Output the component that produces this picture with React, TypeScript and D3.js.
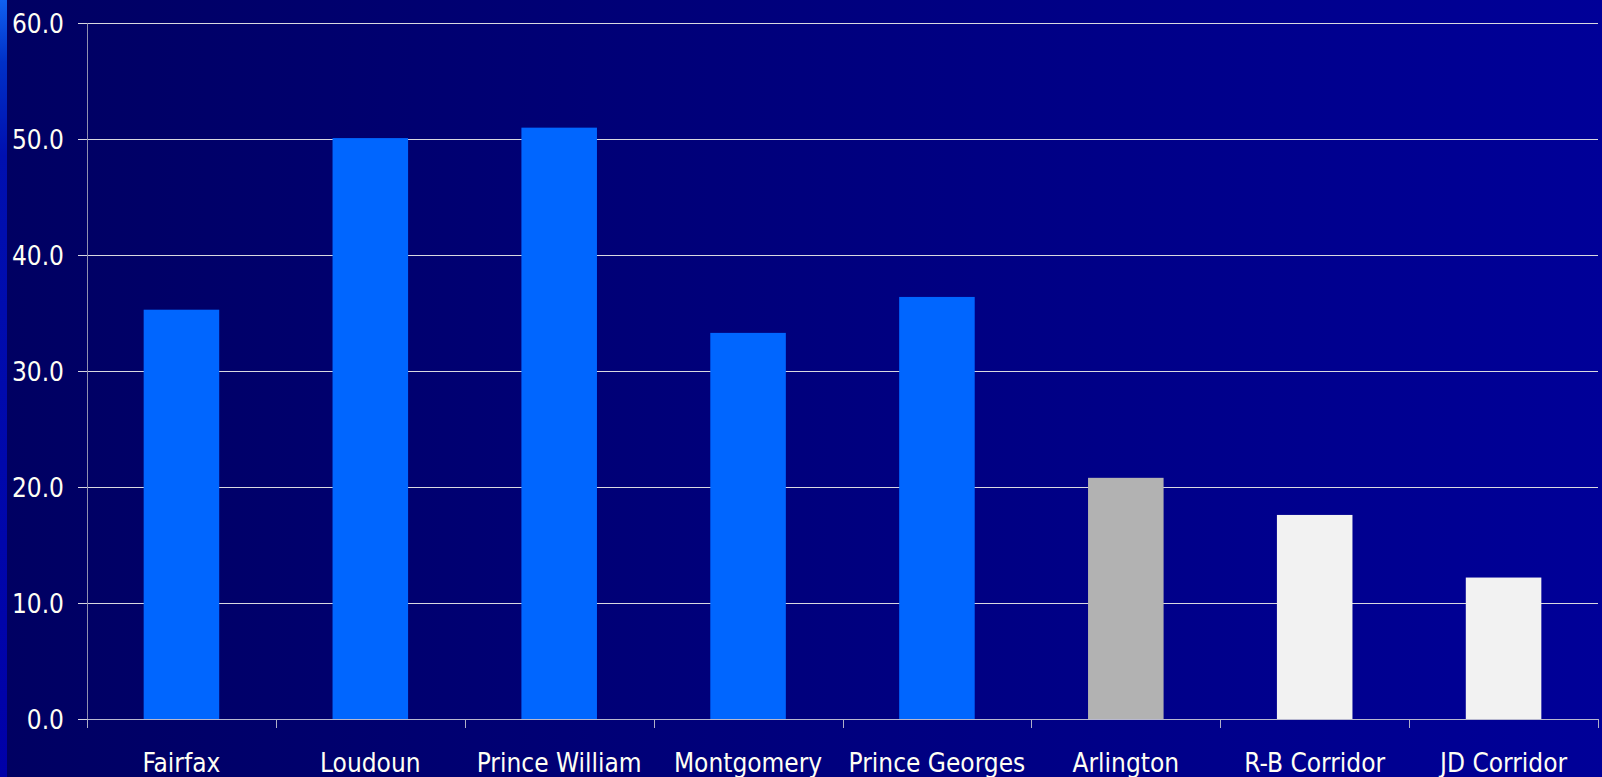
import React from "react";
import * as d3 from "d3";

const categories = ["Fairfax", "Loudoun", "Prince William", "Montgomery", "Prince Georges", "Arlington", "R-B Corridor", "JD Corridor"];
const values = [35.3, 50.1, 51.0, 33.3, 36.4, 20.8, 17.6, 12.2];
const barColors = ["#0066FF", "#0066FF", "#0066FF", "#0066FF", "#0066FF", "#B2B2B2", "#F2F2F2", "#F2F2F2"];
const yTicks = [0, 10, 20, 30, 40, 50, 60];

const W = 1602;
const H = 777;
const left = 87;
const right = 1598;
const top = 23.3;
const bottom = 719;
const font = "'DejaVu Sans Condensed', 'DejaVu Sans', sans-serif";

export default function App() {
  const x = d3.scaleBand<string>().domain(categories).range([left, right]).paddingInner(0.6).paddingOuter(0.3);
  const y = d3.scaleLinear().domain([0, 60]).range([bottom, top]);
  const step = x.step();
  const boundaries = d3.range(categories.length + 1).map((i) => left + i * step);

  return (
    <svg width={W} height={H} style={{ position: "fixed", left: 0, top: 0, display: "block" }}>
      <defs>
        <linearGradient id="bg" x1="0" x2="1" y1="0" y2="0">
          <stop offset="0%" stopColor="#000062" />
          <stop offset="100%" stopColor="#000098" />
        </linearGradient>
        <linearGradient id="strip" x1="0" x2="0" y1="0" y2="1">
          <stop offset="0%" stopColor="#1060F0" />
          <stop offset="8%" stopColor="#0030C8" />
          <stop offset="20%" stopColor="#0010B0" />
          <stop offset="100%" stopColor="#0000A8" />
        </linearGradient>
      </defs>
      <rect x={0} y={0} width={W} height={H} fill="url(#bg)" />
      <rect x={0} y={0} width={7} height={H} fill="url(#strip)" />

      {yTicks.map((t) => (
        <line key={"g" + t} x1={78} x2={right} y1={Math.round(y(t)) + 0.5} y2={Math.round(y(t)) + 0.5} stroke="#D8D8E0" strokeWidth={1} />
      ))}
      <line x1={left + 0.5} x2={left + 0.5} y1={top} y2={bottom + 9} stroke="#9090B0" strokeWidth={1} />
      {boundaries.map((b, i) => (
        <line key={"t" + i} x1={Math.round(b) + 0.5} x2={Math.round(b) + 0.5} y1={bottom} y2={bottom + 9} stroke="#B0B0C8" strokeWidth={1} />
      ))}

      {categories.map((c, i) => (
        <rect key={c} x={x(c)} y={y(values[i])} width={x.bandwidth()} height={y(0) - y(values[i])} fill={barColors[i]} />
      ))}
      <line x1={left} x2={right} y1={Math.round(y(0)) + 0.5} y2={Math.round(y(0)) + 0.5} stroke="#B8B8D0" strokeWidth={1} />

      {yTicks.map((t) => (
        <text key={"l" + t} x={64} y={y(t) + 9.5} textAnchor="end" fill="#FFFFF4" fontFamily={font} fontSize={26}>
          {t.toFixed(1)}
        </text>
      ))}
      {categories.map((c) => (
        <text key={"c" + c} x={(x(c) ?? 0) + x.bandwidth() / 2} y={772} textAnchor="middle" fill="#FFFFF4" fontFamily={font} fontSize={26}>
          {c}
        </text>
      ))}
    </svg>
  );
}
